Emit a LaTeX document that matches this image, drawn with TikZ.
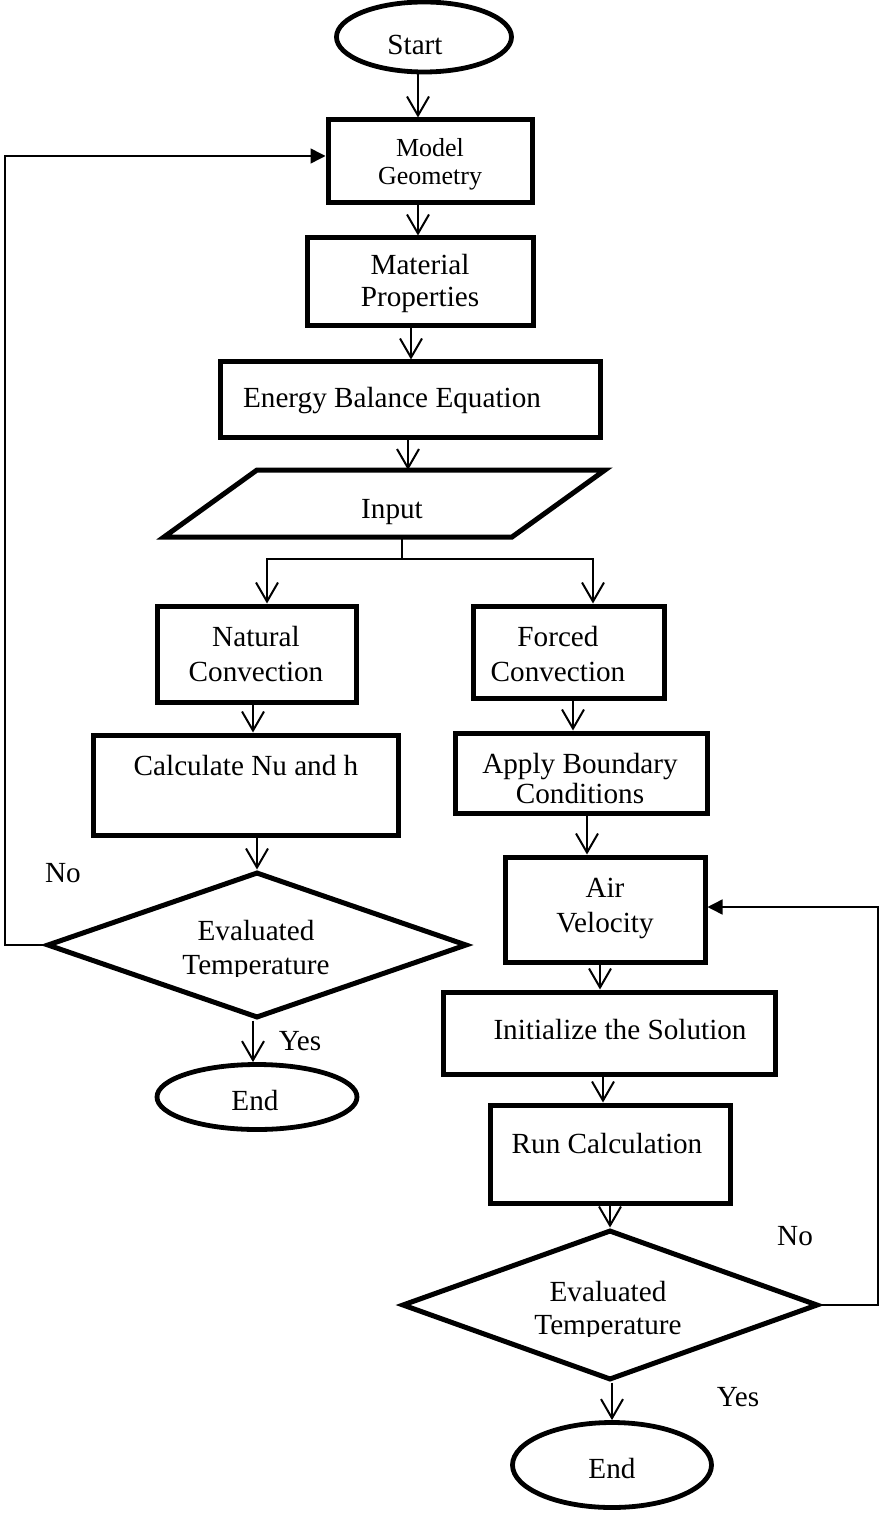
\documentclass[tikz,border=0pt]{standalone}
\usepackage{fontspec}
\setmainfont{Liberation Serif}
\usetikzlibrary{arrows.meta,shapes.geometric,fit}
\newcommand\twol[3]{\vtop{\baselineskip=#1\lineskiplimit=-20pt\halign{\hfil##\hfil\cr#2\cr#3\cr}}}
\begin{document}
\begin{tikzpicture}[x=0.5pt,y=-0.5pt,
 box/.style={draw, line width=2.5pt, inner sep=0pt},
 ell/.style={draw, ellipse, line width=2.4pt, inner sep=0pt},
 dia/.style={draw, diamond, line width=2.5pt, inner sep=0pt},
 txt/.style={anchor=base, inner sep=0pt, font=\fontsize{14.6}{17}\selectfont},
 arr/.style={line width=1pt, -{Straight Barb[length=9.5pt,width=11pt]}},
 fb/.style={line width=0.75pt, -{Triangle[length=7.5pt,width=7.5pt]}},
 ln/.style={line width=1pt},
]
\useasboundingbox (0,0) rectangle (880,1513);
% shapes
\node[ell, minimum width=87.5pt, minimum height=35pt] (start) at (424,37) {};
\node[box, fit={(328,120) (532,203)}] (mg) {};
\node[box, fit={(307,238) (533,326)}] (mat) {};
\node[box, fit={(220,362) (600,438)}] (ebe) {};
\draw[line width=2.5pt] (164,537) -- (257,470) -- (605,470) -- (512,537) -- cycle;
\node[box, fit={(157,606) (356,702)}] (nat) {};
\node[box, fit={(93,735) (398,835)}] (calc) {};
\node[dia, minimum width=210pt, minimum height=73pt] (dia1) at (257,945) {};
\node[ell, minimum width=100pt, minimum height=32.5pt] (end1) at (257,1097) {};
\node[box, fit={(473,606) (664,698)}] (forc) {};
\node[box, fit={(455,733) (707,813)}] (apply) {};
\node[box, fit={(505,857) (705,962)}] (air) {};
\node[box, fit={(443,992) (775,1074)}] (init) {};
\node[box, fit={(490,1105) (730,1203)}] (run) {};
\node[dia, minimum width=208pt, minimum height=75pt] (dia2) at (610,1305) {};
\node[ell, minimum width=99.5pt, minimum height=42.5pt] (end2) at (612,1465) {};
% texts
\node[txt] (tstart) at (415,55) {Start};
\node[txt, font=\fontsize{13}{15}\selectfont] (tmg) at (430,157) {\twol{14pt}{Model}{Geometry}};
\node[txt] (tmat) at (420,275) {\twol{16pt}{Material}{Properties}};
\node[txt] (tebe) at (392,408) {Energy Balance Equation};
\node[txt] (tin) at (392,518) {Input};
\node[txt] (tnat) at (256,646) {\twol{17.5pt}{Natural}{Convection}};
\node[txt] (tcalc) at (246,775) {Calculate Nu and h};
\node[txt] (tforc) at (558,646) {\twol{17.5pt}{Forced}{Convection}};
\node[txt] (tapp) at (580,773) {\twol{15pt}{Apply Boundary}{Conditions}};
\node[txt] (tair) at (605,897) {\twol{17.5pt}{Air}{Velocity}};
\node[txt] (tinit) at (620,1039) {Initialize the Solution};
\node[txt] (trun) at (607,1153) {Run Calculation};
\begin{scope}
\clip (0,880) rectangle (880,976);
\node[txt] (tev1) at (256,940) {\twol{17pt}{Evaluated}{Temperature}};
\end{scope}
\begin{scope}
\clip (0,1240) rectangle (880,1336);
\node[txt] (tev2) at (608,1301) {\twol{16.5pt}{Evaluated}{Temperature}};
\end{scope}
\node[txt] (tend1) at (255,1110) {End};
\node[txt] (tend2) at (612,1478) {End};
\node[txt] (no1) at (63,882) {No};
\node[txt] (yes1) at (300,1050) {Yes};
\node[txt] (no2) at (795,1245) {No};
\node[txt] (yes2) at (738,1406) {Yes};
% helper coordinates
\coordinate (cA) at (418,0);
\coordinate (cB) at (411,0);
\coordinate (inT) at (408,470);
\coordinate (inB) at (402,537);
\coordinate (spl) at (402,559);
\coordinate (sl) at (267,559);
\coordinate (sr) at (593,559);
\coordinate (cC) at (253,0);
\coordinate (cE) at (573,0);
\coordinate (cF) at (587,0);
\coordinate (cG) at (600,0);
\coordinate (cH) at (603,0);
\coordinate (cJ) at (612,0);
\coordinate (fbL) at (5,156);
\coordinate (fbR) at (878,907);
% connectors
\draw[arr] (start.south -| cA) -- (mg.north -| cA);
\draw[arr] (mg.south -| cA) -- (mat.north -| cA);
\draw[arr] (mat.south -| cB) -- (ebe.north -| cB);
\draw[arr] (ebe.south -| inT) -- (inT);
\draw[ln] (inB) -- (spl);
\draw[arr] (spl) -| (nat.north -| sl);
\draw[arr] (spl) -| (forc.north -| sr);
\draw[arr] (nat.south -| cC) -- (calc.north -| cC);
\draw[arr] (calc.south -| dia1.north) -- (dia1.north);
\draw[arr] (dia1.south -| cC) -- (end1.north -| cC);
\draw[fb] (dia1.west) -| (fbL) -- (mg.west |- fbL);
\draw[arr] (forc.south -| cE) -- (apply.north -| cE);
\draw[arr] (apply.south -| cF) -- (air.north -| cF);
\draw[arr] (air.south -| cG) -- (init.north -| cG);
\draw[arr] (init.south -| cH) -- (run.north -| cH);
\draw[arr] (run.south -| dia2.north) -- (dia2.north);
\draw[arr] (dia2.south -| cJ) -- (end2.north -| cJ);
\draw[fb] (dia2.east) -| (fbR) -- (air.east |- fbR);
\end{tikzpicture}
\end{document}
